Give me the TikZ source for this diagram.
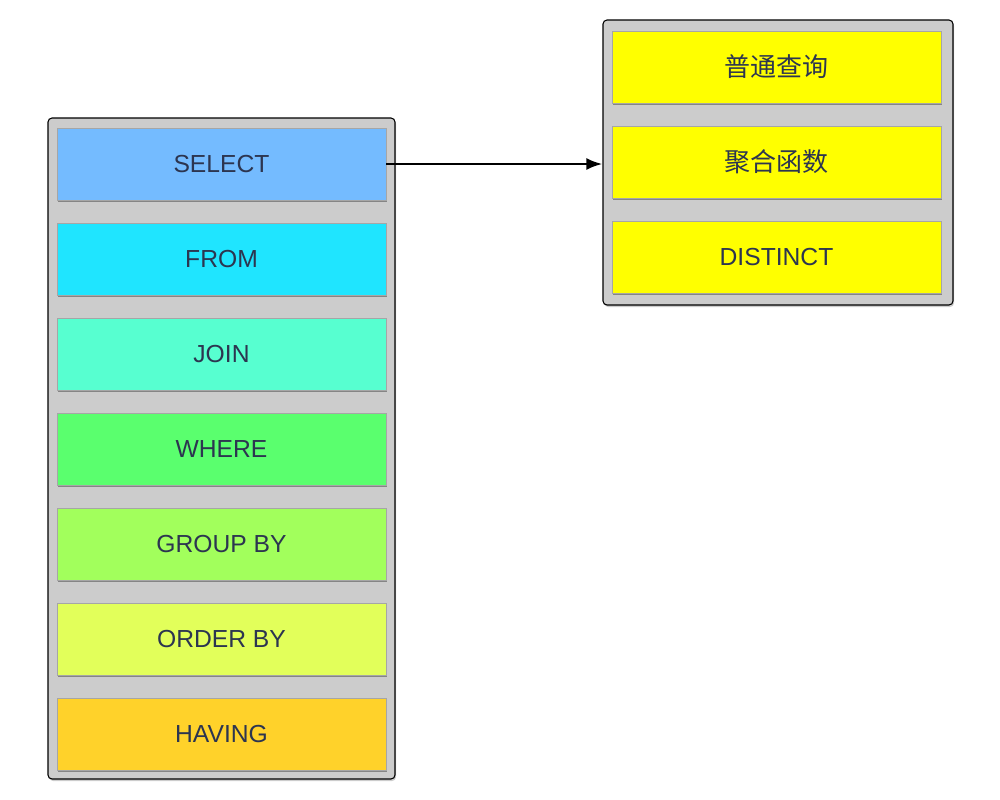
\documentclass[tikz,border=0pt]{standalone}
\usepackage{fontspec}
\setmainfont{Liberation Sans}
\newfontfamily\cjk{Noto Sans CJK SC}
\usetikzlibrary{shadows,arrows.meta}
\definecolor{txt}{HTML}{2C3550}
\definecolor{cont}{HTML}{CCCCCC}
\definecolor{cSel}{HTML}{74BBFF}
\definecolor{cFrom}{HTML}{1FE5FF}
\definecolor{cJoin}{HTML}{57FFD0}
\definecolor{cWhere}{HTML}{5AFF6E}
\definecolor{cGroup}{HTML}{A2FF5C}
\definecolor{cOrder}{HTML}{E2FF5A}
\definecolor{cHaving}{HTML}{FFD22A}
\definecolor{cYel}{HTML}{FFFF00}
\tikzset{
  container/.style={draw=black, line width=0.8pt, fill=cont, rounded corners=3pt,
    drop shadow={shadow xshift=0.8pt, shadow yshift=-1.5pt, opacity=0.4}},
  item/.style={draw=black!35, line width=0.5pt, minimum width=246.75pt, minimum height=54pt,
    inner sep=0pt, text=txt, font=\fontsize{18.5}{20}\selectfont,
    drop shadow={shadow xshift=1pt, shadow yshift=-1.8pt, opacity=0.55, fill=black!70}},
  cjkitem/.style={font=\cjk\fontsize{19.5}{21}\selectfont},
  link/.style={line width=2pt, -{Latex[length=12pt,width=9pt]}}
}
\begin{document}
\begin{tikzpicture}[x=0.75pt,y=-0.75pt]
\useasboundingbox (0,0) rectangle (1000,800);
% left container
\node[container, minimum width=260.25pt, minimum height=495.75pt] (lc) at (221.5,448.5) {};
\node[item, fill=cSel] (sel) at (221.5,164) {SELECT};
\node[item, fill=cFrom] (from) at (221.5,259) {FROM};
\node[item, fill=cJoin] (join) at (221.5,354) {JOIN};
\node[item, fill=cWhere] (where) at (221.5,449) {WHERE};
\node[item, fill=cGroup] (group) at (221.5,544) {GROUP BY};
\node[item, fill=cOrder] (order) at (221.5,639) {ORDER BY};
\node[item, fill=cHaving] (having) at (221.5,734) {HAVING};
% right container
\node[container, minimum width=262.5pt, minimum height=213.75pt] (rc) at (778,162.5) {};
\node[item, cjkitem, fill=cYel] (r1) at (776.5,67) {普通查询};
\node[item, cjkitem, fill=cYel] (r2) at (776.5,162) {聚合函数};
\node[item, fill=cYel] (r3) at (776.5,257) {DISTINCT};
% arrow
\draw[link] (sel.east) -- (rc.west |- sel.east);
\end{tikzpicture}
\end{document}
